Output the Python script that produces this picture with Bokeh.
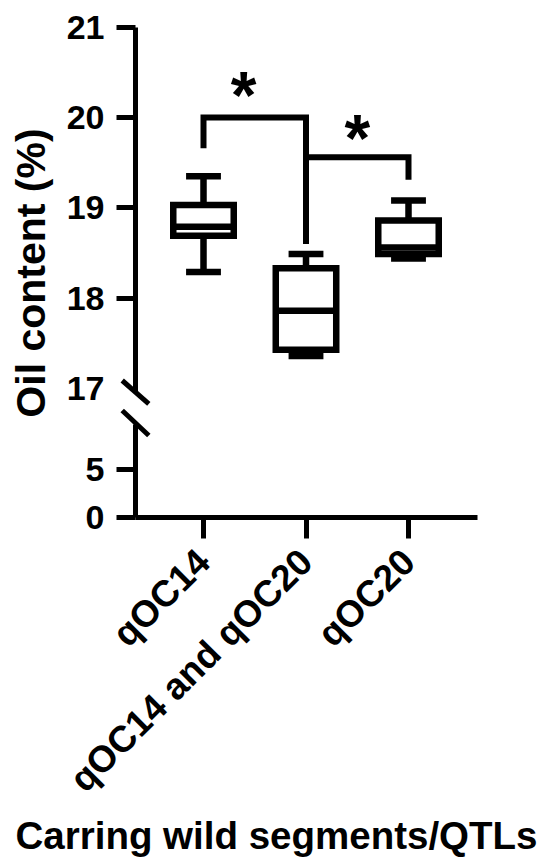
import math
from bokeh.plotting import figure
from bokeh.models import Range1d, LinearAxis, FixedTicker
from bokeh.core.properties import value
from bokeh.embed import file_html
from bokeh.resources import INLINE

# ---------------- data ----------------
categories = ["qOC14", "qOC14 and qOC20", "qOC20"]
whisker_max = [19.35, 18.49, 19.08]
q3 = [19.03, 18.33, 18.86]
median = [18.79, 17.86, 18.56]
q1 = [18.69, 17.43, 18.49]
whisker_min = [18.29, 17.36, 18.44]

upper_ticks = [18, 19, 20, 21]
upper_untick_labels = [17]
lower_ticks = [0, 5]

# significance brackets (x = category position 1..3)
bracket1_x = [1, 1, 2, 2]
bracket1_y = [19.66, 20.0, 20.0, 18.6]
bracket2_x = [2, 3, 3]
bracket2_y = [19.56, 19.56, 19.31]
star_x = [1.39, 2.50]
star_y = [20.37, 19.89]
star_text = ["*", "*"]

x_axis_title = "Carring wild segments/QTLs"
y_axis_title = "Oil content (%)"

# ---------------- layout helpers (pixel geometry of the picture) ----------------
W, H = 548, 858
CAT_PX0, CAT_STEP = 203.0, 102.5     # x pixel of first category, px per category
UP_PX21, UP_STEP = 26.5, 90.4        # y pixel of 21 %, px per 1 % (upper segment)
LOW_PX0, LOW_STEP = 517.0, 9.6       # y pixel of 0 %, px per 1 % (lower segment)


def xd(px):
    return 1 + (px - CAT_PX0) / CAT_STEP


def yu(py):
    return 21 - (py - UP_PX21) / UP_STEP


def yl(py):
    return (LOW_PX0 - py) / LOW_STEP


FONT = "Liberation Sans"
xs = [i + 1 for i in range(len(categories))]
AX_X = xd(135)
BOX_HALF = 0.295
CAP_HALF = 0.17
LW = 6.5

p = figure(width=W, height=H, output_backend="svg", toolbar_location=None,
           title=None, x_range=Range1d(xd(0), xd(W)), y_range=Range1d(yu(H), yu(0)),
           x_axis_type=None, y_axis_type=None,
           min_border_left=0, min_border_right=0, min_border_top=0, min_border_bottom=0)
p.extra_y_ranges = {"low": Range1d(yl(H), yl(0))}
p.outline_line_color = None
p.background_fill_color = "white"
p.border_fill_color = "white"


def style_axis(ax):
    ax.axis_line_width = 5
    ax.axis_line_color = "black"
    ax.major_tick_line_width = 5
    ax.major_tick_line_color = "black"
    ax.major_tick_in = 0
    ax.major_tick_out = 19
    ax.minor_tick_line_color = None
    ax.major_label_standoff = 12
    ax.major_label_text_font = FONT
    ax.major_label_text_font_style = "bold"
    ax.major_label_text_color = "black"
    ax.major_label_text_font_size = "34px"


ax_up = LinearAxis(ticker=FixedTicker(ticks=upper_ticks), bounds=(yu(392), 21),
                   fixed_location=AX_X)
style_axis(ax_up)
p.add_layout(ax_up, "left")

ax_17 = LinearAxis(ticker=FixedTicker(ticks=upper_untick_labels), fixed_location=AX_X)
style_axis(ax_17)
ax_17.axis_line_color = None
ax_17.major_tick_line_color = None
p.add_layout(ax_17, "left")

ax_low = LinearAxis(y_range_name="low", ticker=FixedTicker(ticks=lower_ticks),
                    bounds=(0, yl(424)), fixed_location=AX_X)
style_axis(ax_low)
p.add_layout(ax_low, "left")

ax_x = LinearAxis(y_range_name="low", fixed_location=0, bounds=(AX_X, xd(477)),
                  ticker=FixedTicker(ticks=xs),
                  major_label_overrides={x: c for x, c in zip(xs, categories)})
style_axis(ax_x)
ax_x.major_tick_out = 21
ax_x.major_label_standoff = 17
ax_x.major_label_orientation = math.pi / 4
ax_x.major_label_text_font_size = "37px"
p.add_layout(ax_x, "below")

# ---------------- boxes ----------------
left = [x - BOX_HALF for x in xs]
right = [x + BOX_HALF for x in xs]
p.segment(x0=xs, y0=q3, x1=xs, y1=whisker_max, line_width=LW, line_color="black")
p.segment(x0=xs, y0=q1, x1=xs, y1=whisker_min, line_width=LW, line_color="black")
p.quad(left=left, right=right, top=q3, bottom=q1, fill_color="white",
       line_color="black", line_width=LW, line_join="miter")
p.segment(x0=left, y0=median, x1=right, y1=median, line_width=LW, line_color="black")
p.segment(x0=[x - CAP_HALF for x in xs], y0=whisker_max,
          x1=[x + CAP_HALF for x in xs], y1=whisker_max, line_width=LW, line_color="black")
p.segment(x0=[x - CAP_HALF for x in xs], y0=whisker_min,
          x1=[x + CAP_HALF for x in xs], y1=whisker_min, line_width=LW, line_color="black")

# ---------------- significance ----------------
p.line(bracket1_x, bracket1_y, line_width=6, line_color="black", line_join="miter")
p.line(bracket2_x, bracket2_y, line_width=6, line_color="black", line_join="miter")
p.text(x=star_x, y=star_y, text=star_text, text_font=value(FONT),
       text_font_size="66px", text_font_style="bold", text_color="black",
       text_align="center", text_baseline="alphabetic", y_offset=11)

# ---------------- axis break marks ----------------
p.segment(x0=[xd(121.7), xd(121.7)], y0=[yu(380), yu(410)],
          x1=[xd(148.3), xd(148.3)], y1=[yu(403.3), yu(435)],
          line_width=5, line_color="black")

# ---------------- axis titles ----------------
p.text(x=[xd(30)], y=[yu(272.5)], text=[y_axis_title], angle=math.pi / 2,
       text_align="center", text_baseline="middle", text_font=value(FONT),
       text_font_size="41px", text_font_style="bold", text_color="black")
p.text(x=[xd(276)], y=[yl(835)], y_range_name="low", text=[x_axis_title],
       text_align="center", text_baseline="alphabetic", text_font=value(FONT),
       text_font_size="38.5px", text_font_style="bold", text_color="black")

open("out.html", "w").write(file_html(p, INLINE))
